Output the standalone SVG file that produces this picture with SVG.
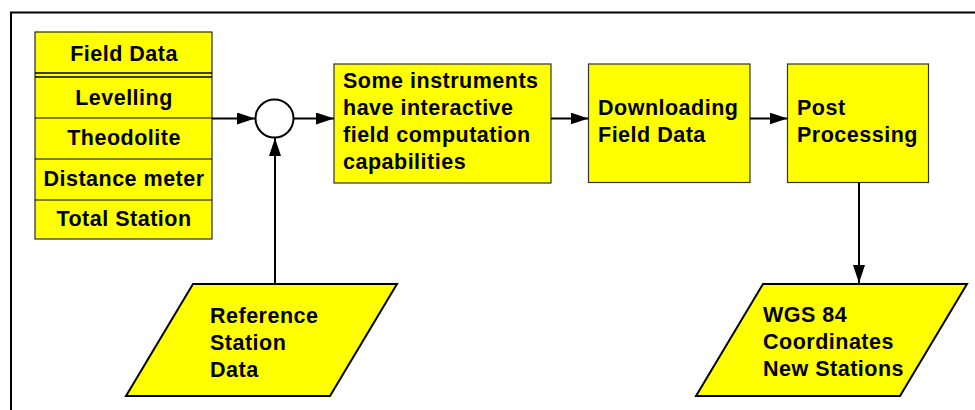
<svg xmlns="http://www.w3.org/2000/svg" width="975" height="410" viewBox="0 0 975 410">
  <style>
    text { font-family: "Liberation Sans", Arial, Helvetica, sans-serif; font-weight: bold; font-size: 21.5px; letter-spacing: 0.5px; fill: #000; }
    .mid { text-anchor: middle; }
    .box { fill: #ffff00; stroke: #333; stroke-width: 1.2; }
    .cell { fill: #ffff00; stroke: #000; stroke-width: 1; }
    .io { fill: #ffff00; stroke: #000; stroke-width: 2; }
    .edge { fill: none; stroke: #000; stroke-width: 2; }
    .frame { fill: none; stroke: #000; stroke-width: 2; }
  </style>
  <defs>
    <marker id="arrow" viewBox="0 0 18 12" refX="18" refY="6" markerWidth="18" markerHeight="12" markerUnits="userSpaceOnUse" orient="auto">
      <path d="M0,0 L18,6 L0,12 z" fill="#000"/>
    </marker>
  </defs>

  <rect width="975" height="410" fill="#fff"/>
  <!-- page frame (open to the right and bottom) -->
  <path class="frame" d="M11,420 L11,12.5 L980,12.5"/>

  <g id="field-data">
    <rect class="cell" x="35" y="32" width="177" height="207"/>
    <line x1="35" y1="73" x2="212" y2="73" stroke="#000" stroke-width="1.5"/>
    <line x1="35" y1="77" x2="212" y2="77" stroke="#000" stroke-width="1.5"/>
    <line x1="35" y1="118" x2="212" y2="118" stroke="#000" stroke-width="1"/>
    <line x1="35" y1="159" x2="212" y2="159" stroke="#000" stroke-width="1"/>
    <line x1="35" y1="200" x2="212" y2="200" stroke="#000" stroke-width="1"/>
    <text class="mid" x="124" y="61">Field Data</text>
    <text class="mid" x="124" y="105">Levelling</text>
    <text class="mid" x="124" y="145">Theodolite</text>
    <text class="mid" x="124" y="186">Distance meter</text>
    <text class="mid" x="124" y="226">Total Station</text>
  </g>

  <g id="junction">
    <circle cx="274.5" cy="118.5" r="19" fill="#fff" stroke="#000" stroke-width="2"/>
  </g>

  <g id="field-computation">
    <rect class="box" x="334" y="64" width="217" height="119"/>
    <text x="343" y="88">Some instruments</text>
    <text x="343" y="115">have interactive</text>
    <text x="343" y="142">field computation</text>
    <text x="343" y="169">capabilities</text>
  </g>

  <g id="downloading">
    <rect class="box" x="588.5" y="64" width="161.5" height="118.5"/>
    <text x="598" y="115">Downloading</text>
    <text x="598" y="142">Field Data</text>
  </g>

  <g id="post-processing">
    <rect class="box" x="787.5" y="64" width="141" height="118.5"/>
    <text x="797" y="115">Post</text>
    <text x="797" y="142">Processing</text>
  </g>

  <g id="reference-station">
    <polygon class="io" points="193,284 397,284 330,396 126,396"/>
    <text x="210" y="323">Reference</text>
    <text x="210" y="350">Station</text>
    <text x="210" y="377">Data</text>
  </g>

  <g id="wgs84-coordinates">
    <polygon class="io" points="763,284 967,284 900,396 696,396"/>
    <text x="763" y="322">WGS 84</text>
    <text x="763" y="349">Coordinates</text>
    <text x="763" y="376">New Stations</text>
  </g>

  <g id="connectors">
    <line class="edge" x1="212" y1="118.5" x2="255" y2="118.5" marker-end="url(#arrow)"/>
    <line class="edge" x1="293.5" y1="118.5" x2="334" y2="118.5" marker-end="url(#arrow)"/>
    <line class="edge" x1="551" y1="118.5" x2="588.5" y2="118.5" marker-end="url(#arrow)"/>
    <line class="edge" x1="750" y1="118.5" x2="787.5" y2="118.5" marker-end="url(#arrow)"/>
    <line class="edge" x1="275" y1="284" x2="275" y2="138" marker-end="url(#arrow)"/>
    <line class="edge" x1="859" y1="182.5" x2="859" y2="283" marker-end="url(#arrow)"/>
  </g>
</svg>
